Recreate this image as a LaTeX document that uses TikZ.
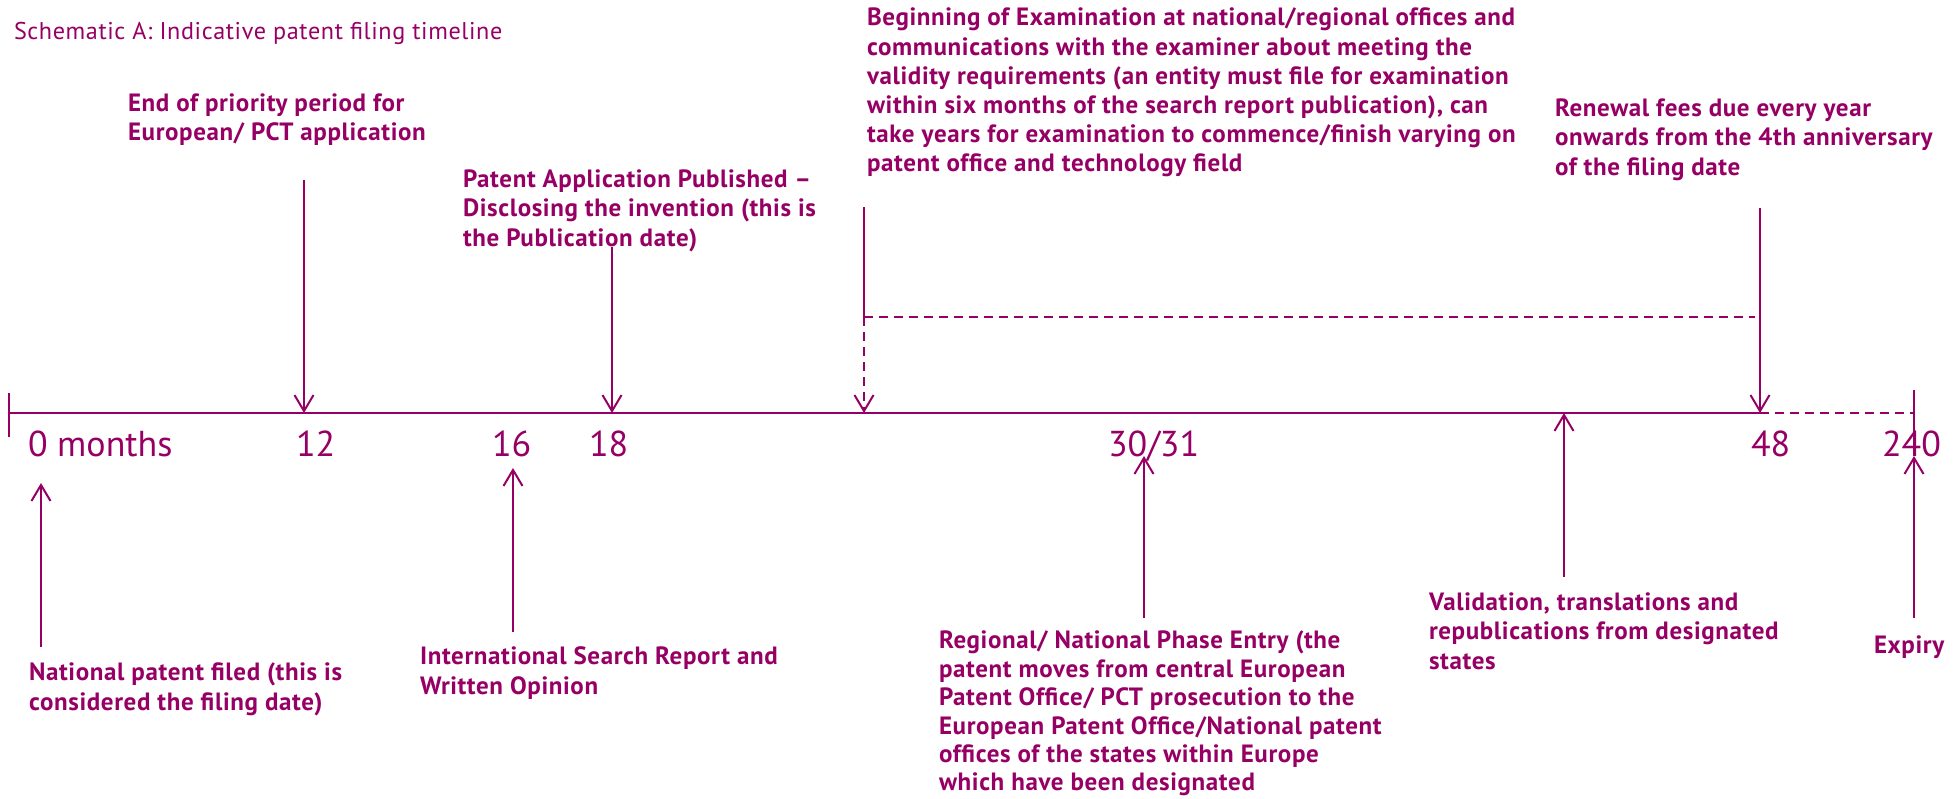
\documentclass[tikz,border=0pt]{standalone}
\usepackage{fontspec}
\setmainfont{PT Sans}
\newfontfamily\eventfont{PT Sans}[LetterSpace=2.5]
\usetikzlibrary{arrows.meta}
\definecolor{patent}{RGB}{150,0,100}

\tikzset{
	event/.style={anchor=north west, inner sep=0pt, align=left,
		font=\eventfont\bfseries\fontsize{12.5}{14.6}\selectfont, execute at begin node=\strut},
	month/.style={anchor=base west, inner sep=0pt, font=\fontsize{18}{21.6}\selectfont},
	later/.style={dash pattern=on 4.5pt off 3pt}
}

\begin{document}
\begin{tikzpicture}[x=0.5pt, y=-0.5pt, color=patent, line width=1pt,
	>={Straight Barb[length=8pt,width=9.5pt]}]
	% Axis height and baseline of the month numbers
	\def\axisy{413}
	\def\numy{456}
	\useasboundingbox (0,0) rectangle (1960,798);
	
	% Title
	\node[anchor=base west, inner sep=0pt, font=\eventfont\fontsize{12.1}{14.6}\selectfont] (title) at (13,39)
	{Schematic A: Indicative patent filing timeline};
	
	% Points on the time axis
	\coordinate (p0) at (9,\axisy);
	\coordinate (p12) at (304,\axisy);
	\coordinate (p18) at (612,\axisy);
	\coordinate (pexam) at (864,\axisy);
	\coordinate (p48) at (1760,\axisy);
	\coordinate (p240) at (1914,\axisy);
	
	% Time axis, solid up to 48 months, dashed on to 240
	\draw (p0) -- (p48);
	\draw[later] (p48) -- (p240);
	\draw (9,393) -- (9,437);
	\draw (1914,390) -- (1914,\numy);
	
	% Month numbers under the axis
	\node[month] (m0) at (27,\numy) {0 months};
	\node[month] (m12) at (295,\numy) {12};
	\node[month] (m16) at (491,\numy) {16};
	\node[month] (m18) at (588,\numy) {18};
	\node[month] (m30) at (1107,\numy) {30/31};
	\node[month] (m48) at (1750,\numy) {48};
	\node[month] (m240) at (1881,\numy) {240};
	
	% Events above the axis
	\node[event] (prio) at (127,93) {End of priority period for\\European/ PCT application};
	\node[event] (pub) at (462,169) {Patent Application Published –\\Disclosing the invention (this is\\the Publication date)};
	\node[event] (exam) at (866,7) {Beginning of Examination at national/regional offices and\\communications with the examiner about meeting the\\validity requirements (an entity must file for examination\\within six months of the search report publication), can\\take years for examination to commence/finish varying on\\patent office and technology field};
	\node[event] (renew) at (1554,98) {Renewal fees due every year\\onwards from the 4th anniversary\\of the filing date};
	
	% Events below the axis
	\node[event] (filed) at (28,662) {National patent filed (this is\\considered the filing date)};
	\node[event] (isr) at (419,646) {International Search Report and\\Written Opinion};
	\node[event, font=\eventfont\bfseries\fontsize{12.5}{14.2}\selectfont] (entry) at (938,630) {Regional/ National Phase Entry (the\\patent moves from central European\\Patent Office/ PCT prosecution to the\\European Patent Office/National patent\\offices of the states within Europe\\which have been designated};
	\node[event] (valid) at (1428,592) {Validation, translations and\\republications from designated\\states};
	\node[event] (expiry) at (1873,632) {Expiry};
	
	% Arrow ends
	\coordinate (a12) at (304,180);
	\coordinate (a18) at (612,247);
	\coordinate (aexam) at (864,207);
	\coordinate (bexam) at (864,317);
	\coordinate (a48) at (1760,208);
	\coordinate (bend) at (1755,317);
	\coordinate (a0) at (41,647);
	\coordinate (b0) at (41,483);
	\coordinate (a16) at (513,632);
	\coordinate (b16) at (513,468);
	\coordinate (a30) at (1144,618);
	\coordinate (b30) at (1144,\numy);
	\coordinate (avalid) at (1564,577);
	\coordinate (bvalid) at (1564,\axisy);
	\coordinate (a240) at (1914,618);
	\coordinate (b240) at (1914,\numy);
	
	% Arrows from above
	\draw[->] (a12) -- (p12);
	\draw[->] (a18) -- (p18);
	\draw (aexam) -- (bexam);
	\draw[->, later] (bexam) -- (pexam);
	\draw[later] (bexam) -- (bend);
	\draw[->] (a48) -- (p48);
	
	% Arrows from below
	\draw[->] (a0) -- (b0);
	\draw[->] (a16) -- (b16);
	\draw[->] (a30) -- (b30);
	\draw[->] (avalid) -- (bvalid);
	\draw[->] (a240) -- (b240);
\end{tikzpicture}
\end{document}
